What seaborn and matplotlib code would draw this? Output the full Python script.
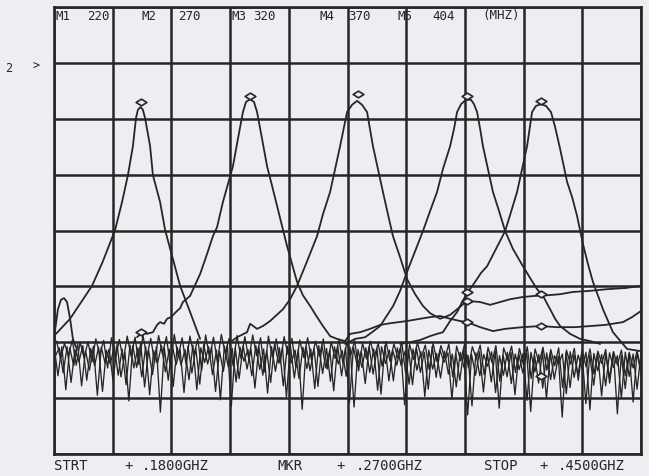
import numpy as np
import pandas as pd
import matplotlib
matplotlib.use("Agg")
import matplotlib.pyplot as plt
import seaborn as sns
from matplotlib.path import Path

# ---------------- data (frequency in MHz, level in dB, 10 dB/div) ----------------
start_mhz, stop_mhz = 180, 450
top_labels = ["M1", "220", "M2", "270", "M3", "320", "M4", "370", "M5", "404", "(MHZ)"]
bottom_labels = ["STRT", "+", ".1800GHZ", "MKR", "+", ".2700GHZ", "STOP", "+", ".4500GHZ"]

t1_x = [180.9, 187.4, 197.5, 202.5, 208.1, 211.3, 214.0, 216.3, 217.7, 218.6, 219.8,
        220.9, 221.9, 224.2, 225.5, 228.8, 231.1, 234.7, 238.0, 242.6, 247.2]
t1_y = [-58.5, -55.8, -49.9, -45.5, -39.9, -34.9, -30.1, -24.9, -19.9, -18.4, -17.9,
        -18.4, -19.9, -24.9, -30.1, -34.9, -39.9, -45.1, -49.9, -54.6, -59.4]

t2_x = [218.2, 220.5, 222.8, 225.5, 227.4, 228.8, 230.6, 232.0, 233.8, 236.6, 238.0, 239.3,
        242.6, 247.2, 250.4, 253.1, 255.0, 257.7, 260.0, 262.3, 264.6, 266.9, 268.3, 270.2,
        272.0, 273.4, 275.7, 278.0, 280.3, 282.6, 284.9, 287.2, 289.5, 291.8, 294.5, 297.8,
        301.0, 303.7, 307.0, 310.2, 313.9, 316.2, 320.8, 325.4, 330.0, 334.6, 342.4, 348.4,
        353.0, 357.6, 362.2, 366.8, 370.0, 376.0, 381.9, 387.5, 395.7, 403.6, 411.4, 419.7,
        426.6, 433.5, 441.7, 445.9, 450.0]
t2_y = [-59.1, -58.2, -58.5, -58.2, -56.9, -56.4, -56.7, -55.8, -55.5, -54.4, -53.9, -52.8,
        -51.7, -47.8, -44.2, -41.0, -39.4, -34.9, -31.7, -28.5, -23.6, -18.8, -17.0, -16.5,
        -17.0, -18.8, -23.6, -28.5, -32.0, -35.6, -39.2, -42.8, -46.0, -49.2, -51.6, -53.5,
        -55.5, -57.1, -58.9, -59.4, -59.8, -58.5, -58.2, -57.6, -56.9, -56.6, -56.2, -55.8,
        -55.5, -55.3, -55.8, -56.2, -56.4, -57.3, -58.0, -57.6, -57.3, -57.1, -57.3, -57.3,
        -57.1, -56.9, -56.4, -55.5, -54.4]

t3_x = [261.0, 264.2, 268.8, 270.2, 273.4, 276.1, 279.4, 285.3, 288.6, 291.8, 296.4, 301.0,
        303.7, 307.0, 309.3, 311.6, 314.8, 317.1, 319.4, 321.7, 324.0, 326.7, 329.0, 331.3,
        333.6, 335.9, 339.2, 342.4, 346.1, 349.7, 353.0, 357.6, 362.2, 365.4, 370.0, 376.0,
        380.6, 385.2, 389.8, 395.7, 401.3, 406.8, 412.8, 418.7, 426.6, 434.4, 442.7, 450.0]
t3_y = [-60.0, -59.1, -58.2, -56.7, -57.6, -57.1, -56.2, -54.1, -52.3, -49.9, -45.5, -41.0,
        -37.1, -33.1, -29.0, -24.9, -18.8, -17.5, -16.8, -17.5, -18.8, -24.9, -29.0, -33.1,
        -37.1, -41.0, -44.8, -48.7, -51.4, -53.5, -54.8, -55.8, -55.1, -54.1, -52.6, -52.8,
        -53.3, -52.8, -52.3, -51.9, -51.7, -51.6, -51.4, -51.0, -50.8, -50.5, -50.3, -49.9]

t4_x = [313.9, 318.5, 323.1, 326.3, 330.0, 336.0, 339.2, 342.4, 346.1, 349.7, 353.0, 356.2,
        358.9, 362.2, 364.0, 365.4, 367.2, 369.5, 371.8, 373.2, 374.6, 376.0, 377.3, 379.6,
        381.9, 384.7, 387.5, 391.1, 395.7, 399.0, 402.2, 404.9, 408.2, 410.5, 412.8, 417.4,
        422.0, 426.6, 431.2]
t4_y = [-60.3, -59.4, -59.1, -58.2, -57.1, -53.5, -50.8, -47.4, -43.7, -40.1, -36.5, -33.1,
        -29.0, -24.9, -21.8, -18.8, -17.4, -16.6, -16.6, -17.4, -18.8, -21.8, -24.9, -29.0,
        -33.1, -36.5, -40.1, -43.3, -46.4, -48.5, -50.5, -51.7, -54.1, -55.8, -57.1, -58.5,
        -59.4, -59.8, -60.3]

t5_x = [339.2, 343.8, 348.4, 353.0, 356.2, 358.9, 362.2, 365.4, 367.7, 370.4, 373.7, 376.4,
        379.2, 383.3, 387.5, 390.2, 393.0, 395.3, 397.6, 399.9, 401.7, 404.0, 406.3, 408.6,
        410.5, 412.8, 416.0, 418.3, 420.6, 423.3, 425.6, 427.9, 432.5, 437.1, 443.6, 450.0]
t5_y = [-60.3, -60.0, -59.6, -58.9, -58.5, -58.2, -56.2, -54.6, -52.8, -51.0, -49.2, -47.6,
        -46.4, -43.3, -40.1, -36.7, -33.1, -29.0, -24.9, -18.8, -17.7, -17.4, -17.7, -18.8,
        -21.5, -25.4, -31.3, -34.0, -37.4, -42.4, -46.0, -49.2, -54.1, -58.2, -61.2, -61.6]

bump_x = [180.0, 180.9, 181.8, 183.2, 184.6, 186.0, 187.4, 188.7, 190.1]
bump_y = [-59.1, -56.7, -54.1, -52.4, -52.1, -52.8, -55.8, -59.4, -60.9]

noise_a = [-60.5, -66.0, -60.8, -68.5, -61.0, -64.2, -60.3, -67.8, -61.5, -65.0,
           -60.7, -69.5, -60.9, -63.8, -61.2, -67.0, -60.4, -66.2, -61.8, -70.5,
           -60.6, -64.5, -60.2, -68.0, -61.4, -65.8, -60.8, -72.5, -61.0, -66.8,
           -60.5, -64.0, -61.3, -69.0, -60.7, -65.5, -61.1, -67.5, -60.4, -63.9,
           -60.9, -68.8, -61.6, -65.2, -60.5, -71.5, -61.0, -66.5, -60.6, -64.8,
           -61.2, -68.2, -60.8, -65.9, -61.5, -67.2, -60.3, -63.7, -61.0, -69.8,
           -60.6, -66.4, -61.3, -72.0, -60.8, -65.1, -61.1, -67.9, -60.5, -64.6,
           -61.4, -68.7, -60.7, -66.0, -61.0, -70.8, -60.9, -64.3, -61.6, -67.4,
           -60.8, -65.7, -61.2, -69.3, -60.6, -66.9, -61.5, -64.1, -60.9, -71.2,
           -61.3, -67.6, -61.0, -65.4, -61.8, -68.4, -60.7, -66.3, -61.4, -63.6,
           -61.9, -70.2, -62.0, -66.8, -61.5, -73.0, -62.2, -65.9, -61.7, -68.9,
           -62.0, -67.1, -61.6, -71.8, -62.3, -66.2, -61.8, -69.4, -62.1, -65.5,
           -61.9, -72.4, -62.4, -67.3, -61.7, -70.1, -62.0, -66.6, -62.5, -73.4,
           -61.8, -68.1, -62.2, -65.8, -61.6, -71.0, -62.3, -67.7, -61.9, -69.6,
           -62.1, -66.4, -61.7, -72.8, -62.4, -68.3, -62.0, -70.7, -61.8, -65.6]
noise_b = [-62.5, -61.0, -65.5, -60.8, -67.2, -61.3, -63.5, -60.6, -66.8, -61.1,
           -64.2, -60.9, -68.8, -61.4, -63.9, -60.7, -65.9, -61.2, -67.6, -60.5,
           -64.6, -61.0, -66.2, -60.8, -69.4, -61.5, -63.8, -60.6, -65.3, -61.2,
           -67.9, -60.9, -64.1, -61.3, -66.7, -60.5, -68.5, -61.0, -63.6, -60.8,
           -65.8, -61.4, -70.3, -60.7, -64.4, -61.1, -67.1, -60.9, -63.4, -61.3,
           -66.0, -60.6, -64.9, -61.2, -69.1, -60.8, -65.2, -61.0, -67.8, -60.7,
           -63.7, -61.4, -66.5, -60.9, -64.7, -61.2, -68.3, -60.6, -65.6, -61.1,
           -67.0, -60.8, -63.9, -61.5, -66.1, -60.9, -71.6, -61.3, -64.5, -61.0,
           -65.4, -61.2, -68.6, -60.8, -63.8, -61.4, -66.9, -61.0, -64.2, -61.6,
           -67.5, -61.2, -65.0, -61.7, -69.7, -61.4, -64.8, -62.0, -66.4, -61.6,
           -65.7, -62.1, -68.0, -61.8, -64.6, -62.3, -71.4, -61.9, -66.0, -62.2,
           -64.3, -61.7, -69.0, -62.4, -65.9, -61.8, -67.4, -62.1, -64.9, -62.0,
           -70.4, -61.8, -65.3, -62.2, -68.2, -61.9, -66.7, -62.4, -64.0, -62.1,
           -69.2, -61.7, -66.3, -62.3, -64.7, -61.8, -72.1, -62.0, -65.1, -62.2,
           -67.8, -61.9, -64.5, -62.4, -70.0, -61.8, -66.1, -62.1, -68.4, -62.0]
noise_c = [-59.8, -63.0, -60.2, -62.4, -59.6, -64.1, -60.0, -62.8, -59.9, -63.5,
           -59.4, -62.2, -59.7, -64.6, -59.2, -62.9, -59.5, -63.3, -58.9, -62.5,
           -59.1, -64.0, -58.7, -62.7, -59.3, -63.6, -58.8, -62.1, -59.0, -64.4,
           -58.6, -62.6, -59.2, -63.9, -58.9, -62.3, -59.4, -65.0, -58.7, -62.8,
           -59.1, -63.4, -58.6, -62.0, -59.3, -64.2, -58.8, -62.9, -59.0, -63.1,
           -58.7, -62.4, -59.2, -65.3, -58.9, -62.6, -59.4, -63.8, -59.0, -62.2,
           -59.3, -64.5, -59.6, -62.7, -59.2, -63.2, -59.8, -62.5, -59.4, -64.8,
           -59.9, -62.9, -59.5, -63.7, -60.0, -62.3, -59.7, -65.1, -60.1, -63.0,
           -59.8, -62.6, -60.2, -64.3, -59.9, -63.4, -60.3, -62.8, -60.0, -65.6,
           -60.4, -63.1, -60.1, -62.7, -60.5, -64.9, -60.2, -63.5, -60.6, -62.9,
           -60.3, -66.2, -60.7, -63.3, -60.4, -64.6, -60.8, -62.9, -60.5, -65.8,
           -60.9, -63.6, -60.6, -67.0, -61.0, -63.2, -60.7, -65.4, -61.1, -64.0,
           -60.8, -66.5, -61.2, -63.7, -60.9, -65.0, -61.3, -64.2, -61.0, -68.1,
           -61.4, -63.9, -61.1, -66.8, -61.5, -64.4, -61.2, -65.7, -61.6, -63.8,
           -61.3, -67.3, -61.7, -64.1, -61.4, -66.0, -61.8, -64.6, -61.5, -65.2]

# marker diamonds (frequency, level)
mk_x = [220, 270, 320, 370, 404, 220, 370, 370, 370, 404, 404, 404]
mk_y = [-17.0, -15.9, -15.6, -15.9, -16.8, -58.2, -51.0, -52.6, -56.4, -51.4, -57.1, -66.1]

# ---------------- drawing ----------------
sns.set_theme(style="white")
plt.rcParams['font.family'] = ['DejaVu Sans Mono', 'DejaVu Sans']

BG = '#eceef2'
INK = '#262626'
W, H = 649, 477

fig = plt.figure(figsize=(W / 100, H / 100), dpi=100, facecolor=BG)
ax = fig.add_axes([54 / W, 22 / H, 587 / W, 447 / H])
ax.set_facecolor(BG)
ax.set_xlim(start_mhz, stop_mhz)
ax.set_ylim(-80, 0)
ax.set_xticks(np.arange(start_mhz, stop_mhz + 1, 27))
ax.set_yticks(np.arange(-80, 1, 10))
ax.grid(True, color=INK, lw=1.8)
ax.set_axisbelow(True)
ax.tick_params(length=0, labelbottom=False, labelleft=False)
for s in ax.spines.values():
    s.set_color(INK)
    s.set_linewidth(1.9)

def trace(x, y, lw=1.3):
    df = pd.DataFrame({"MHz": x, "dB": y})
    sns.lineplot(data=df, x="MHz", y="dB", ax=ax, color=INK, lw=lw,
                 sort=False, estimator=None)

nx = np.linspace(start_mhz, stop_mhz, len(noise_a))
nx2 = np.linspace(start_mhz + 0.6, stop_mhz, len(noise_b))
nx3 = np.linspace(start_mhz + 1.2, stop_mhz, len(noise_c))
trace(nx, noise_a, 0.95)
trace(nx2, noise_b, 0.95)
trace(nx3, noise_c, 0.95)
trace(bump_x, bump_y)
for tx, ty in [(t1_x, t1_y), (t2_x, t2_y), (t3_x, t3_y), (t4_x, t4_y), (t5_x, t5_y)]:
    trace(tx, ty)

diamond = Path([(-1, 0), (0, 0.62), (1, 0), (0, -0.62), (-1, 0)],
               [Path.MOVETO, Path.LINETO, Path.LINETO, Path.LINETO, Path.CLOSEPOLY])
sns.scatterplot(x=mk_x, y=mk_y, ax=ax, marker=diamond, s=60,
                facecolor=BG, edgecolor=INK, linewidth=1.2, zorder=5)
ax.set_xlabel("")
ax.set_ylabel("")

# annotation text (positions in pixels of the 649x477 figure)
top_x = [55, 87, 142, 178, 232, 253, 320, 348, 398, 432, 482]
for lab, px in zip(top_labels, top_x):
    fig.text(px / W, 1 - 16 / H, lab, fontsize=9, color=INK, va="center", ha="left")

bot_x = [54, 124, 142, 277, 336, 356, 484, 539, 558]
for lab, px in zip(bottom_labels, bot_x):
    fig.text(px / W, 1 - 466 / H, lab, fontsize=10, color=INK, va="center", ha="left")

fig.text(9 / W, 1 - 68 / H, "2", fontsize=8.5, color=INK, va="center", ha="center")
fig.text(36 / W, 1 - 66 / H, ">", fontsize=8.5, color=INK, va="center", ha="center")

fig.savefig("out.png", dpi=100, facecolor=BG)
